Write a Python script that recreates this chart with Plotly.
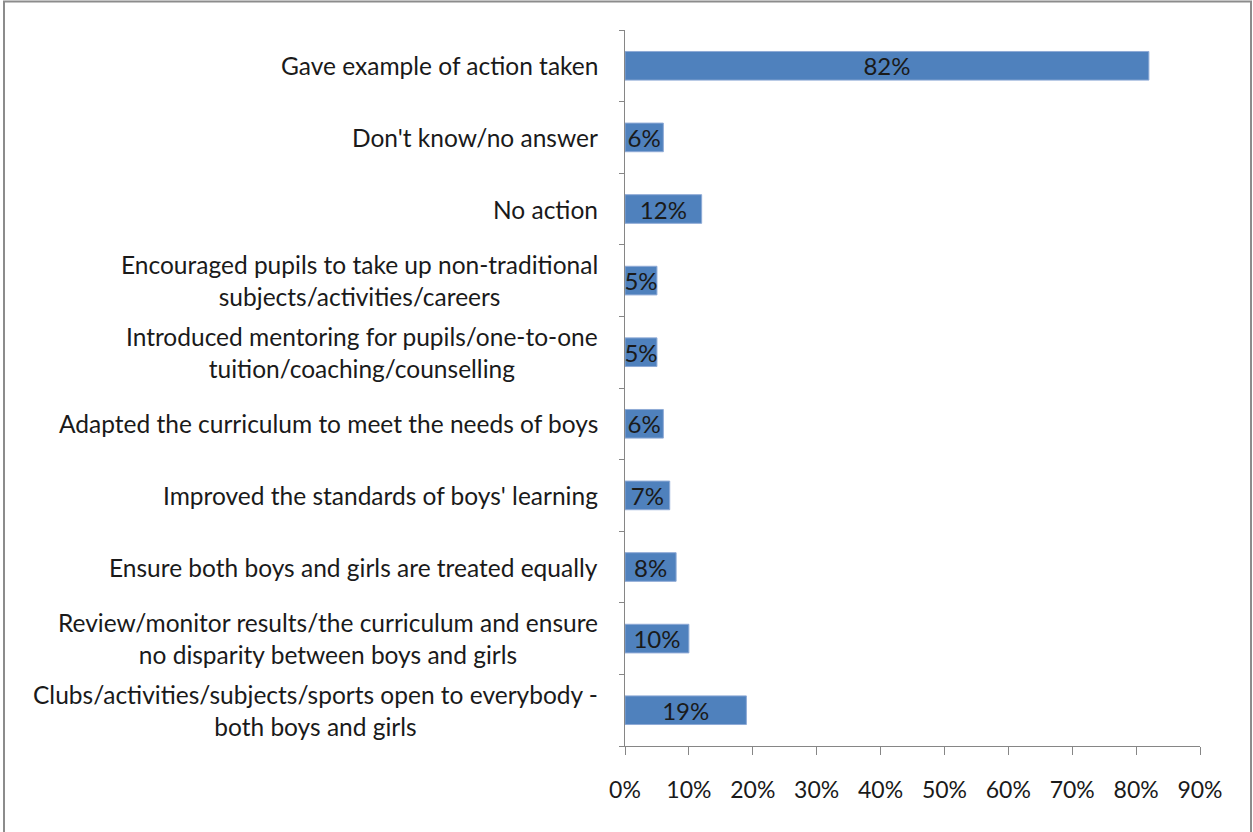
import plotly.graph_objects as go

# data, top to bottom as in the picture
categories = [
    "Gave example of action taken",
    "Don't know/no answer",
    "No action",
    "Encouraged pupils to take up non-traditional<br>subjects/activities/careers",
    "Introduced mentoring for pupils/one-to-one<br>tuition/coaching/counselling",
    "Adapted the curriculum to meet the needs of boys",
    "Improved the standards of boys' learning",
    "Ensure both boys and girls are treated equally",
    "Review/monitor results/the curriculum and ensure<br>no disparity between boys and girls",
    "Clubs/activities/subjects/sports open to everybody -<br>both boys and girls",
]
values = [0.82, 0.06, 0.12, 0.05, 0.05, 0.06, 0.07, 0.08, 0.10, 0.19]
tick_vals = [0, 0.1, 0.2, 0.3, 0.4, 0.5, 0.6, 0.7, 0.8, 0.9]
tick_text = ["0%", "10%", "20%", "30%", "40%", "50%", "60%", "70%", "80%", "90%"]

FONT = "Lato, 'Open Sans', sans-serif"
TXT = '#1a1a1a'

fig = go.Figure()
fig.add_trace(go.Bar(
    x=values, y=categories, orientation='h',
    marker=dict(color='#4F81BD', line=dict(color='#8EAAD6', width=1)),
    text=[f"{round(v*100)}%" for v in values],
    textposition='inside', insidetextanchor='middle', constraintext='none',
    textfont=dict(family=FONT, size=24, color=TXT),
    cliponaxis=False, width=0.4,
))

# category labels as centred, right-anchored annotations
for c in categories:
    fig.add_annotation(x=0, xref='paper', y=c, yref='y', text=c, showarrow=False,
                       xanchor='right', align='center', xshift=-25,
                       font=dict(family=FONT, size=24.5, color=TXT))

fig.update_layout(
    width=1253, height=832,
    margin=dict(l=625, r=53, t=30, b=86),
    plot_bgcolor='white', paper_bgcolor='white',
    showlegend=False,
    shapes=[dict(type='rect', xref='paper', yref='paper',
                 x0=(4 - 625) / 575, x1=(1251 - 625) / 575,
                 y0=(746 - 840) / 716, y1=(746 - 1.5) / 716,
                 line=dict(color='#8c8c8c', width=2))],
)
fig.update_xaxes(range=[0, 0.9], tickvals=tick_vals, ticktext=tick_text,
                 showgrid=False, zeroline=False, showline=True, linecolor='#868686',
                 ticks='outside', ticklen=8, tickcolor='#868686',
                 tickfont=dict(family=FONT, size=23, color=TXT),
                 ticklabelstandoff=15)
fig.update_yaxes(categoryorder='array', categoryarray=categories[::-1],
                 autorange=True, showticklabels=False, showgrid=False,
                 showline=True, linecolor='#868686',
                 ticks='outside', ticklen=5, tickcolor='#868686', tickson='boundaries')

# drop the default page margin so the figure sits at the window's corner
fig.write_html("out.html", config={'displayModeBar': False},
               post_script="document.body.style.margin='0px';")
